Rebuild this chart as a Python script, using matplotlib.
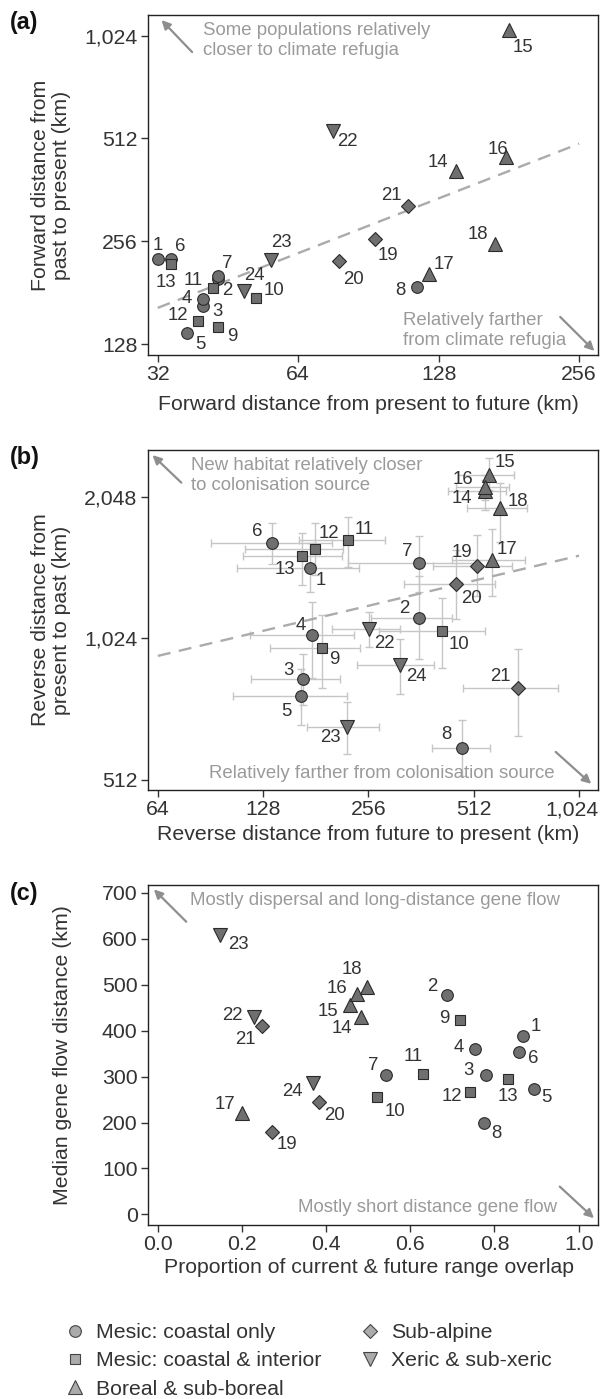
import numpy as np
import matplotlib
matplotlib.use("Agg")
import matplotlib.pyplot as plt
from matplotlib.lines import Line2D
from matplotlib.transforms import ScaledTranslation

plt.rcParams['font.family'] = ['Liberation Sans', 'DejaVu Sans']

# ---------------- data ----------------
pop_ids = list(range(1, 25))
groups = ['coastal'] * 8 + ['interior'] * 5 + ['boreal'] * 5 + ['subalpine'] * 3 + ['xeric'] * 3
group_names = {
    'coastal': 'Mesic: coastal only',
    'interior': 'Mesic: coastal & interior',
    'boreal': 'Boreal & sub-boreal',
    'subalpine': 'Sub-alpine',
    'xeric': 'Xeric & sub-xeric',
}

# (a) forward distances (km)
fwd_future = [32, 43, 40, 40, 37, 34.1, 43, 114.9, 43, 52, 42, 39.1, 34.1,
              139.4, 180.9, 178.4, 122.1, 169.2, 93.6, 78.1, 110, 75.9, 56, 49]
fwd_past = [227, 198, 166, 173.7, 137.9, 227, 203, 187.8, 143.5, 174.5, 186.6, 150, 219,
            412, 1064, 451.6, 206, 251.5, 260.7, 224, 325, 537, 226, 182.9]
trend_a = (4.693, 0.532)   # log2 intercept, slope

# (b) reverse distances (km) with intervals
rev_future = [174.5, 357, 166, 176, 164.6, 135.4, 358, 475, 188, 415, 223.6, 180, 165,
              553, 565, 553, 579, 609, 523, 455, 686, 257.6, 223, 315]
rev_future_lo = [108, 261, 118, 117.5, 105, 91, 224, 388, 134, 274, 162, 113.5, 112,
                 433, 461, 455, 444, 491, 391, 324, 477, 201, 170.5, 238]
rev_future_hi = [240, 444, 213, 233, 223, 201, 523, 569, 242, 550, 285, 217, 215,
                 633, 666, 645, 718, 728, 657, 590, 891, 315, 274, 394]
rev_past = [1442, 1133, 838, 1039, 771, 1630, 1477, 598, 978, 1063, 1657, 1586, 1535,
            2109, 2277, 2148, 1502, 1935, 1461, 1338, 802, 1070, 663, 896]
rev_past_lo = [1286, 924, 739, 842, 670, 1470, 1286, 522, 802, 884, 1454, 1396, 1329,
               1919, 2116, 2014, 1256, 1643, 1256, 1123, 633, 983, 581, 780]
rev_past_hi = [1630, 1389, 948, 1220, 880, 1798, 1689, 687, 1148, 1245, 1851, 1803, 1711,
               2222, 2472, 2277, 1749, 2185, 1697, 1578, 970, 1165, 751, 1019]
trend_b = (8.813, 0.177)

# (c) overlap vs gene flow
overlap = [0.868, 0.688, 0.779, 0.753, 0.893, 0.858, 0.543, 0.774, 0.717, 0.522, 0.630, 0.742, 0.833,
           0.484, 0.458, 0.473, 0.201, 0.498, 0.272, 0.384, 0.249, 0.228, 0.149, 0.368]
gene_flow = [388, 477, 303, 360.5, 272, 352.5, 302.5, 199.5, 424, 254.6, 305, 267, 294,
             430, 455.5, 479, 220, 495, 180, 243.7, 410.6, 429, 608, 285]

log_ticks_a_x = [32, 64, 128, 256]
log_ticks_a_y = [128, 256, 512, 1024]
log_ticks_b_x = [64, 128, 256, 512, 1024]
log_ticks_b_y = [512, 1024, 2048]
ticks_c_x = [0.0, 0.2, 0.4, 0.6, 0.8, 1.0]
ticks_c_y = [0, 100, 200, 300, 400, 500, 600, 700]

# ---------------- style / layout ----------------
W, H = 600, 1399
FACE = '#6f6f6f'
EDGE = '#2a2a2a'
TXT = '#333333'
ANN = '#9a9a9a'
ARROW = '#8e8e8e'
marker_style = {
    'coastal': ('o', 8.4),
    'interior': ('s', 7.6),
    'boreal': ('^', 10.0),
    'subalpine': ('D', 6.8),
    'xeric': ('v', 10.0),
}

# label offsets in pixels (dx right, dy down)
off_a = {1: (0, -14), 2: (10, 11), 3: (15, 6), 4: (-16, 0), 5: (13, 11), 6: (10, -13),
         7: (10, -12), 8: (-16, 3), 9: (15, 9), 10: (18, -8), 11: (-20, -8), 12: (-20, -5),
         13: (-5, 18), 14: (-18, -8), 15: (14, 18), 16: (-8, -8), 17: (15, -9), 18: (-17, -9),
         19: (13, 17), 20: (15, 18), 21: (-17, -10), 22: (15, 10), 23: (10, -17), 24: (10, -16)}
off_b = {1: (11, 12), 2: (-15, -9), 3: (-14, -9), 4: (-11, -10), 5: (-15, 15), 6: (-14, -12),
         7: (-12, -12), 8: (-16, -14), 9: (13, 12), 10: (17, 14), 11: (16, -10), 12: (14, -15),
         13: (-17, 14), 14: (-24, 8), 15: (16, -12), 16: (-22, -7), 17: (15, -10), 18: (18, -7),
         19: (-15, -13), 20: (16, 15), 21: (-18, -12), 22: (15, 14), 23: (-17, 11), 24: (16, 11)}
off_c = {1: (13, -10), 2: (-15, -9), 3: (-17, -5), 4: (-16, -1), 5: (13, 8), 6: (14, 6),
         7: (-13, -10), 8: (13, 11), 9: (-15, -1), 10: (18, 14), 11: (-10, -18), 12: (-18, 5),
         13: (0, 17), 14: (-20, 12), 15: (-23, 6), 16: (-20, -6), 17: (-17, -9), 18: (-15, -17),
         19: (15, 13), 20: (15, 13), 21: (-17, 14), 22: (-21, -2), 23: (18, 9), 24: (-20, 8)}

FS_TICK = 15.3
FS_LAB = 15.3
FS_NUM = 13.4
FS_ANN = 13.4

fig = plt.figure(figsize=(W / 100, H / 100), dpi=100)


def add_ax(top_px):
    return fig.add_axes([148 / W, 1 - (top_px + 340) / H, 450 / W, 340 / H])


ax_a = add_ax(15)
ax_b = add_ax(450)
ax_c = add_ax(885)


def style_axes(ax):
    for s in ax.spines.values():
        s.set_linewidth(1.0)
        s.set_color('#222222')
    ax.tick_params(direction='out', length=5, width=1.0, color='#333333',
                   labelsize=FS_TICK, labelcolor=TXT, pad=2.5)


def scatter_groups(ax, xs, ys):
    xs = np.asarray(xs, float)
    ys = np.asarray(ys, float)
    for g, (m, ms) in marker_style.items():
        idx = [i for i, gg in enumerate(groups) if gg == g]
        ax.plot(xs[idx], ys[idx], ls='none', marker=m, ms=ms, mfc=FACE, mec=EDGE,
                mew=0.8, zorder=3)


def number_labels(ax, xs, ys, offs):
    for i, pid in enumerate(pop_ids):
        dx, dy = offs[pid]
        ax.annotate(str(pid), (xs[i], ys[i]), xytext=(dx, -dy), textcoords='offset pixels',
                    ha='center', va='center', fontsize=FS_NUM, color=TXT, zorder=4)


def arrow(ax, start, end):
    ax.annotate('', xy=end, xytext=start, xycoords='axes fraction', textcoords='axes fraction',
                arrowprops=dict(arrowstyle='-|>', color=ARROW, lw=1.6, mutation_scale=13,
                                shrinkA=0, shrinkB=0), annotation_clip=False)


def fmt_int(v):
    return f'{v:,}'


def setup_log(ax, xt, yt, xlim, ylim):
    ax.set_xscale('log', base=2)
    ax.set_yscale('log', base=2)
    ax.set_xlim(*xlim)
    ax.set_ylim(*ylim)
    ax.set_xticks(xt)
    ax.set_xticklabels([fmt_int(v) for v in xt])
    ax.set_yticks(yt)
    ax.set_yticklabels([fmt_int(v) for v in yt])
    ax.minorticks_off()


def ylab(ax, text, x):
    ax.text(x, 0.5, text, rotation=90, transform=ax.transAxes, ha='center', va='center',
            fontsize=FS_LAB, color=TXT, linespacing=1.15, multialignment='center')


def xlab(ax, text, y):
    ax.text(0.49, y, text, transform=ax.transAxes, ha='center', va='center',
            fontsize=FS_LAB, color=TXT)


# ---------------- panel (a) ----------------
style_axes(ax_a)
setup_log(ax_a, log_ticks_a_x, log_ticks_a_y, (30.5, 281), (119, 1176))
lx = np.geomspace(log_ticks_a_x[0], log_ticks_a_x[-1], 50)
ax_a.plot(lx, 2 ** (trend_a[0] + trend_a[1] * np.log2(lx)), color='#ababab', lw=1.7,
          dashes=(5.5, 3.6), zorder=1)
scatter_groups(ax_a, fwd_future, fwd_past)
number_labels(ax_a, fwd_future, fwd_past, off_a)
ax_a.text(0.122, 0.978, 'Some populations relatively\ncloser to climate refugia', transform=ax_a.transAxes,
          ha='left', va='top', fontsize=FS_ANN, color=ANN, linespacing=1.2)
ax_a.text(0.567, 0.018, 'Relatively farther\nfrom climate refugia', transform=ax_a.transAxes,
          ha='left', va='bottom', fontsize=FS_ANN, color=ANN, linespacing=1.2)
arrow(ax_a, (0.098, 0.891), (0.03, 0.985))
arrow(ax_a, (0.916, 0.112), (0.992, 0.012))
ylab(ax_a, 'Forward distance from\npast to present (km)', -0.216)
xlab(ax_a, 'Forward distance from present to future (km)', -0.147)

# ---------------- panel (b) ----------------
style_axes(ax_b)
setup_log(ax_b, log_ticks_b_x, log_ticks_b_y, (60.0, 1160), (487, 2573))
rf = np.asarray(rev_future, float)
rp = np.asarray(rev_past, float)
ax_b.errorbar(rf, rp,
              xerr=[rf - np.asarray(rev_future_lo), np.asarray(rev_future_hi) - rf],
              yerr=[rp - np.asarray(rev_past_lo), np.asarray(rev_past_hi) - rp],
              fmt='none', ecolor='#c6c6c6', elinewidth=1.0, capsize=3.2, capthick=1.0, zorder=1)
lx = np.geomspace(log_ticks_b_x[0], log_ticks_b_x[-1], 50)
ax_b.plot(lx, 2 ** (trend_b[0] + trend_b[1] * np.log2(lx)), color='#ababab', lw=1.7,
          dashes=(5.5, 3.6), zorder=2)
scatter_groups(ax_b, rev_future, rev_past)
number_labels(ax_b, rev_future, rev_past, off_b)
ax_b.text(0.096, 0.978, 'New habitat relatively closer\nto colonisation source', transform=ax_b.transAxes,
          ha='left', va='top', fontsize=FS_ANN, color=ANN, linespacing=1.2)
ax_b.text(0.136, 0.05, 'Relatively farther from colonisation source', transform=ax_b.transAxes,
          ha='left', va='center', fontsize=FS_ANN, color=ANN)
arrow(ax_b, (0.074, 0.904), (0.01, 0.985))
arrow(ax_b, (0.906, 0.112), (0.985, 0.018))
ylab(ax_b, 'Reverse distance from\npresent to past (km)', -0.216)
xlab(ax_b, 'Reverse distance from future to present (km)', -0.132)
# keep the last x tick label inside the canvas
last_lbl = ax_b.get_xticklabels()[-1]
last_lbl.set_transform(last_lbl.get_transform() + ScaledTranslation(-7 / 100, 0, fig.dpi_scale_trans))

# ---------------- panel (c) ----------------
style_axes(ax_c)
ax_c.set_xlim(-0.023, 1.046)
ax_c.set_ylim(-23, 717)
ax_c.set_xticks(ticks_c_x)
ax_c.set_xticklabels([f'{v:.1f}' for v in ticks_c_x])
ax_c.set_yticks(ticks_c_y)
scatter_groups(ax_c, overlap, gene_flow)
number_labels(ax_c, overlap, gene_flow, off_c)
ax_c.text(0.094, 0.953, 'Mostly dispersal and long-distance gene flow', transform=ax_c.transAxes,
          ha='left', va='center', fontsize=FS_ANN, color=ANN)
ax_c.text(0.910, 0.051, 'Mostly short distance gene flow', transform=ax_c.transAxes,
          ha='right', va='center', fontsize=FS_ANN, color=ANN)
arrow(ax_c, (0.085, 0.892), (0.013, 0.987))
arrow(ax_c, (0.915, 0.113), (0.991, 0.02))
ylab(ax_c, 'Median gene flow distance (km)', -0.189)
xlab(ax_c, 'Proportion of current & future range overlap', -0.124)

# panel letters
for lab, top in [('(a)', 11), ('(b)', 446), ('(c)', 882)]:
    fig.text(9.6 / W, 1 - top / H, lab, ha='left', va='top', fontsize=16.8,
             fontweight='bold', color='#111111')

# legend
order = ['coastal', 'interior', 'boreal', 'subalpine', 'xeric']
handles = []
for g in order:
    m, ms = marker_style[g]
    handles.append(Line2D([], [], ls='none', marker=m, ms=ms, mfc='#ababab', mec='#444444', mew=0.8))
fig.legend(handles, [group_names[g] for g in order], ncol=2, loc='upper left',
           bbox_to_anchor=(66 / W, 1 - 1323 / H), frameon=False, fontsize=FS_LAB,
           handlelength=0.8, handletextpad=0.6, columnspacing=1.9, labelspacing=0.44,
           borderpad=0, borderaxespad=0, labelcolor=TXT)

fig.savefig('out.png', dpi=100)
